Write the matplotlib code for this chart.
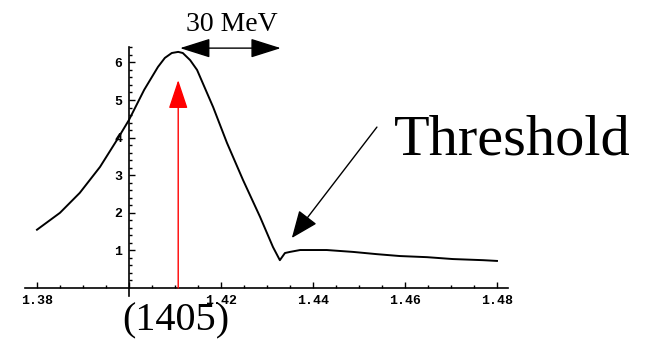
import numpy as np
import matplotlib
matplotlib.use("Agg")
import matplotlib.pyplot as plt
from matplotlib.ticker import FixedLocator

# curve (mass in GeV, arbitrary units)
mass = [1.380, 1.385, 1.3893, 1.3937, 1.3974, 1.400, 1.4033, 1.4063, 1.4078,
        1.4093, 1.4107, 1.4117, 1.4133, 1.4148, 1.4183, 1.4213, 1.4248, 1.4285,
        1.4313, 1.4328, 1.4339, 1.435, 1.4372, 1.443, 1.4487, 1.4539, 1.4589,
        1.4648, 1.4704, 1.477, 1.480]
value = [1.55, 2.0, 2.53, 3.22, 3.94, 4.47, 5.27, 5.88, 6.12,
         6.25, 6.28, 6.25, 6.06, 5.80, 4.81, 3.86, 2.87, 1.89,
         1.09, 0.74, 0.93, 0.96, 1.01, 1.01, 0.96, 0.90, 0.85,
         0.82, 0.77, 0.74, 0.72]

peak_mass = 1.4107
peak_arrow_top = 5.53
width_span = (1.4111, 1.4330)
width_level = 6.38
threshold_tip = (1.4354, 1.33)
threshold_tail = (1.4539, 4.28)

fig = plt.figure(figsize=(6.48, 3.40), dpi=100)
ax = fig.add_axes([0, 0, 1, 1])
ax.set_xlim(1.37196, 1.51283)
ax.set_ylim(-1.383, 7.66)

ax.plot(mass, value, color="black", lw=1.4)

# axes in the Mathematica style, crossing at (1.40, 0)
for s in ["top", "right"]:
    ax.spines[s].set_visible(False)
ax.spines["left"].set_position(("data", 1.40))
ax.spines["bottom"].set_position(("data", 0))
ax.spines["left"].set_bounds(-0.2, 6.4)
ax.spines["bottom"].set_bounds(1.3774, 1.4824)
ax.spines["left"].set_linewidth(1.2)
ax.spines["bottom"].set_linewidth(1.2)

ax.set_xticks([1.38, 1.40, 1.42, 1.44, 1.46, 1.48])
ax.set_xticklabels(["1.38", "", "1.42", "1.44", "1.46", "1.48"])
ax.xaxis.set_minor_locator(FixedLocator(np.arange(1.38, 1.4801, 0.005)))
ax.set_yticks([1, 2, 3, 4, 5, 6])
ax.yaxis.set_minor_locator(FixedLocator(np.arange(0.2, 6.41, 0.2)))
ax.tick_params(axis="x", which="major", direction="in", length=4, width=1, pad=5)
ax.tick_params(axis="x", which="minor", direction="in", length=2.5, width=1)
ax.tick_params(axis="y", which="major", direction="in", length=4, width=1, pad=5)
ax.tick_params(axis="y", which="minor", direction="in", length=2, width=1)
for lab in ax.get_xticklabels() + ax.get_yticklabels():
    lab.set_family("Liberation Mono")
    lab.set_fontweight("bold")
    lab.set_fontsize(9.5)

# red arrow at the peak
ax.annotate("", xy=(peak_mass, peak_arrow_top), xytext=(peak_mass, 0),
            arrowprops=dict(arrowstyle="-|>,head_length=18,head_width=6",
                            mutation_scale=1, color="red", lw=1,
                            shrinkA=0, shrinkB=0))

# width arrow
ax.annotate("", xy=(width_span[1], width_level), xytext=(width_span[0], width_level),
            arrowprops=dict(arrowstyle="<|-|>,head_length=19,head_width=6",
                            mutation_scale=1, color="black", lw=1,
                            shrinkA=0, shrinkB=0))
ax.text(np.mean(width_span) + 0.0002, 6.84, "30 MeV", family="Liberation Serif",
        fontsize=20, ha="center", va="baseline")

# threshold arrow
ax.annotate("", xy=threshold_tip, xytext=threshold_tail,
            arrowprops=dict(arrowstyle="-|>,head_length=17,head_width=7",
                            mutation_scale=1, color="black", lw=1,
                            shrinkA=0, shrinkB=0))
ax.text(1.4576, 3.54, "Threshold", family="Liberation Serif",
        fontsize=42, ha="left", va="baseline")

ax.text(peak_mass - 0.0005, -1.12, "(1405)", family="Liberation Serif",
        fontsize=29, ha="center", va="baseline")

fig.savefig("out.png", dpi=100)
